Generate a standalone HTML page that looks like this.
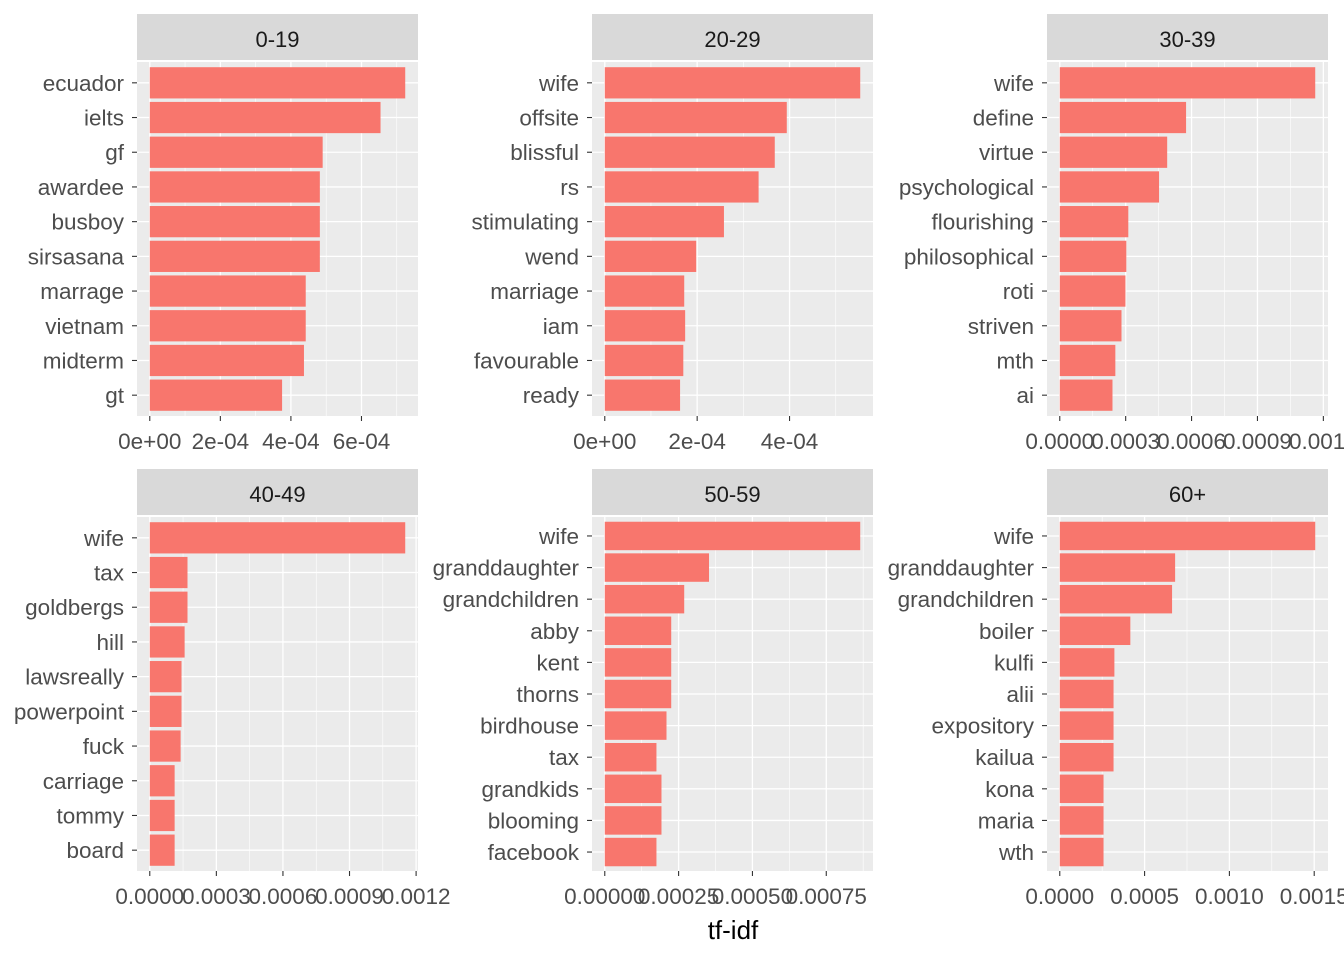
<!DOCTYPE html>
<html><head><meta charset="utf-8"><style>
html,body{margin:0;padding:0;background:#fff;}
svg{display:block;font-family:"Liberation Sans",Arial,sans-serif;}
</style></head><body>
<svg id="chart" width="1344" height="960" viewBox="0 0 1344 960">
<text x="733" y="939" text-anchor="middle" font-size="26" fill="#000">tf-idf</text>
</svg>
<script>
const facetNames = ["0-19","20-29","30-39","40-49","50-59","60+"];
const terms0 = ["ecuador","ielts","gf","awardee","busboy","sirsasana","marrage","vietnam","midterm","gt"];
const values0 = [7.24e-4,6.54e-4,4.9e-4,4.82e-4,4.82e-4,4.82e-4,4.42e-4,4.42e-4,4.37e-4,3.75e-4];
const ticks0 = [0,2e-4,4e-4,6e-4];
const tickLabels0 = ["0e+00","2e-04","4e-04","6e-04"];
const terms1 = ["wife","offsite","blissful","rs","stimulating","wend","marriage","iam","favourable","ready"];
const values1 = [5.53e-4,3.94e-4,3.68e-4,3.33e-4,2.58e-4,1.98e-4,1.72e-4,1.74e-4,1.70e-4,1.63e-4];
const ticks1 = [0,2e-4,4e-4];
const tickLabels1 = ["0e+00","2e-04","4e-04"];
const terms2 = ["wife","define","virtue","psychological","flourishing","philosophical","roti","striven","mth","ai"];
const values2 = [1.163e-3,5.75e-4,4.89e-4,4.52e-4,3.12e-4,3.03e-4,2.99e-4,2.81e-4,2.53e-4,2.40e-4];
const ticks2 = [0,3e-4,6e-4,9e-4,1.2e-3];
const tickLabels2 = ["0.0000","0.0003","0.0006","0.0009","0.0012"];
const terms3 = ["wife","tax","goldbergs","hill","lawsreally","powerpoint","fuck","carriage","tommy","board"];
const values3 = [1.151e-3,1.70e-4,1.70e-4,1.57e-4,1.43e-4,1.43e-4,1.39e-4,1.12e-4,1.12e-4,1.12e-4];
const ticks3 = [0,3e-4,6e-4,9e-4,1.2e-3];
const tickLabels3 = ["0.0000","0.0003","0.0006","0.0009","0.0012"];
const terms4 = ["wife","granddaughter","grandchildren","abby","kent","thorns","birdhouse","tax","grandkids","blooming","facebook"];
const values4 = [8.65e-4,3.53e-4,2.69e-4,2.25e-4,2.25e-4,2.25e-4,2.09e-4,1.75e-4,1.92e-4,1.92e-4,1.75e-4];
const ticks4 = [0,2.5e-4,5e-4,7.5e-4];
const tickLabels4 = ["0.00000","0.00025","0.00050","0.00075"];
const terms5 = ["wife","granddaughter","grandchildren","boiler","kulfi","alii","expository","kailua","kona","maria","wth"];
const values5 = [1.506e-3,6.8e-4,6.62e-4,4.16e-4,3.22e-4,3.17e-4,3.17e-4,3.17e-4,2.58e-4,2.58e-4,2.58e-4];
const ticks5 = [0,5e-4,1e-3,1.5e-3];
const tickLabels5 = ["0.0000","0.0005","0.0010","0.0015"];

const allTerms=[terms0,terms1,terms2,terms3,terms4,terms5];
const allValues=[values0,values1,values2,values3,values4,values5];
const allTicks=[ticks0,ticks1,ticks2,ticks3,ticks4,ticks5];
const allTickLabels=[tickLabels0,tickLabels1,tickLabels2,tickLabels3,tickLabels4,tickLabels5];

const svg=document.getElementById('chart');
const NS="http://www.w3.org/2000/svg";
function mk(tag,attrs,parent){const e=document.createElementNS(NS,tag);for(const k in attrs)e.setAttribute(k,attrs[k]);(parent||svg).appendChild(e);return e;}
const colX=[137,592,1047], PW=281, PH=354;
const rowStrip=[14,469], rowPanel=[62,517];

for(let f=0;f<6;f++){
  const px=colX[f%3], row=Math.floor(f/3), py=rowPanel[row], sy=rowStrip[row];
  const terms=allTerms[f], vals=allValues[f], ticks=allTicks[f], tl=allTickLabels[f];
  const g=mk('g',{});
  
  
  const strip=mk('rect',{x:px,y:sy,width:PW,height:46,fill:'#D9D9D9'},g);
  
  
  const st=mk('text',{x:px+PW/2,y:sy+33,'text-anchor':'middle','font-size':22,fill:'#1A1A1A'},g);
  st.textContent=facetNames[f];
  
  
  const bg=mk('rect',{x:px,y:py,width:PW,height:PH,fill:'#EBEBEB'},g);
  
  
  const mx=Math.max(...vals);
  const d0=-0.05*mx, d1=1.05*mx;
  const xs=v=>px+(v-d0)/(d1-d0)*PW;
  const n=terms.length, unit=PH/(n-1+1.2);
  const ys=i=>py+(0.6+i)*unit;
  const step=ticks[1]-ticks[0];
  for(let i=0;i<=ticks.length;i++){
    const v=ticks[0]+step*(i-0.5);
    if(v<d0||v>d1)continue;
    const gl=mk('line',{x1:xs(v),x2:xs(v),y1:py,y2:py+PH,stroke:'#fff','stroke-width':0.6},g);
    
    
  }
  ticks.forEach((t,i)=>{
    const x=xs(t);
    const gl=mk('line',{x1:x,x2:x,y1:py,y2:py+PH,stroke:'#fff','stroke-width':1.3},g);
    
    
    const tk=mk('line',{x1:x,x2:x,y1:py+PH,y2:py+PH+5,stroke:'#333','stroke-width':1.1},g);
    
    
    const lb=mk('text',{x:x,y:py+PH+33,'text-anchor':'middle','font-size':22.5,fill:'#4D4D4D'},g);
    lb.textContent=tl[i];
    
    
  });
  terms.forEach((t,i)=>{
    const y=ys(i);
    const gl=mk('line',{x1:px,x2:px+PW,y1:y,y2:y,stroke:'#fff','stroke-width':1.3},g);
    
    
  });
  terms.forEach((t,i)=>{
    const y=ys(i), h=0.9*unit;
    const b=mk('rect',{x:xs(0),y:y-h/2,width:xs(vals[i])-xs(0),height:h,fill:'#F8766D'},g);
    
    
    const tk=mk('line',{x1:px-5,x2:px,y1:y,y2:y,stroke:'#333','stroke-width':1.1},g);
    
    
    const lb=mk('text',{x:px-13,y:y+8,'text-anchor':'end','font-size':22.5,fill:'#4D4D4D'},g);
    lb.textContent=t;
    
    
  });
}
</script>
</body></html>
